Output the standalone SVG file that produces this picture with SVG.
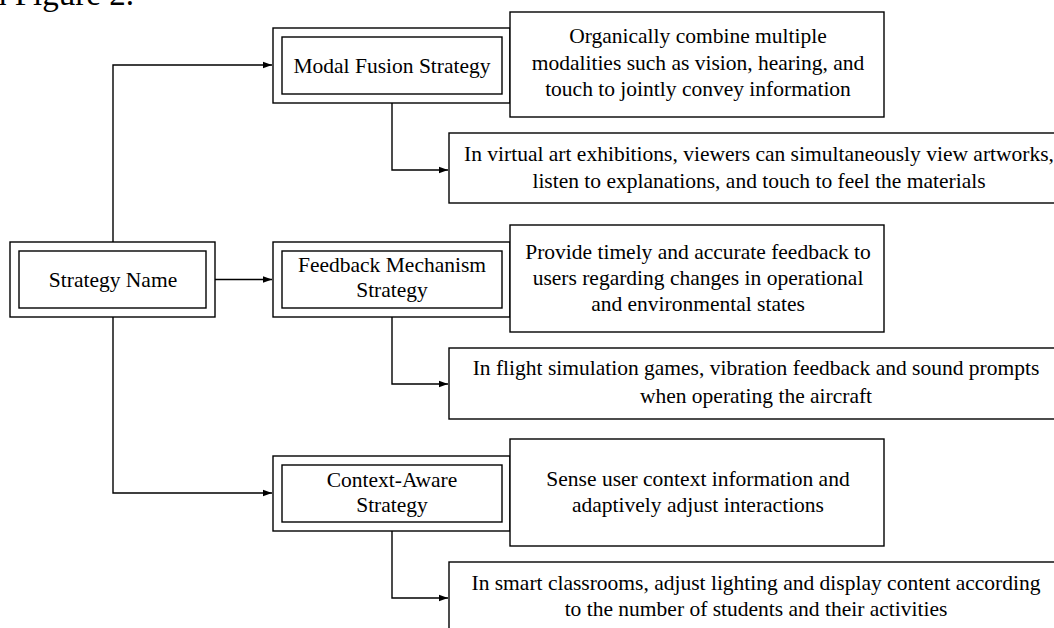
<svg xmlns="http://www.w3.org/2000/svg" width="1054" height="628" viewBox="0 0 1054 628">
<defs>
<style>
.box{fill:#fff;stroke:#000;stroke-width:1.4}
.conn{fill:none;stroke:#000;stroke-width:1.4}
text{font-family:"Liberation Serif","Times New Roman",serif;font-size:21.5px;fill:#000}
.c{text-anchor:middle}
</style>
<marker id="arr" markerWidth="10" markerHeight="8" refX="9" refY="4" orient="auto" markerUnits="userSpaceOnUse">
<path d="M0,0.8 L9,4 L0,7.2 Z" fill="#000"/>
</marker>
</defs>
<rect width="1054" height="628" fill="#fff"/>
<text x="-10" y="5" style="font-size:33px">n Figure 2.</text>

<g id="connectors">
<path class="conn" d="M113,242 V65 H272" marker-end="url(#arr)"/>
<path class="conn" d="M215,279.5 H272" marker-end="url(#arr)"/>
<path class="conn" d="M113,317 V493 H272" marker-end="url(#arr)"/>
<path class="conn" d="M392,103 V170 H448" marker-end="url(#arr)"/>
<path class="conn" d="M392,317 V384 H448" marker-end="url(#arr)"/>
<path class="conn" d="M392,531 V598 H448" marker-end="url(#arr)"/>
</g>

<g id="strategy-name">
<rect class="box" x="10" y="242" width="205" height="75"/>
<rect class="box" x="19" y="251" width="187" height="57"/>
<text class="c" x="113" y="287">Strategy Name</text>
</g>

<g id="modal-fusion">
<rect class="box" x="273" y="28" width="237" height="75"/>
<rect class="box" x="282" y="37" width="220" height="57"/>
<text class="c" x="392" y="73">Modal Fusion Strategy</text>
</g>
<g id="modal-desc">
<rect class="box" x="510" y="12" width="374" height="105"/>
<text class="c" x="698" y="43">Organically combine multiple</text>
<text class="c" x="698" y="69.5">modalities such as vision, hearing, and</text>
<text class="c" x="698" y="95.5">touch to jointly convey information</text>
</g>
<g id="modal-example">
<rect class="box" x="449" y="133" width="640" height="70"/>
<text class="c" x="759" y="161">In virtual art exhibitions, viewers can simultaneously view artworks,</text>
<text class="c" x="759" y="188">listen to explanations, and touch to feel the materials</text>
</g>

<g id="feedback">
<rect class="box" x="273" y="242" width="237" height="75"/>
<rect class="box" x="282" y="251" width="220" height="57"/>
<text class="c" x="392" y="272">Feedback Mechanism</text>
<text class="c" x="392" y="297">Strategy</text>
</g>
<g id="feedback-desc">
<rect class="box" x="510" y="225" width="374" height="107"/>
<text class="c" x="698" y="259">Provide timely and accurate feedback to</text>
<text class="c" x="698" y="285">users regarding changes in operational</text>
<text class="c" x="698" y="311">and environmental states</text>
</g>
<g id="feedback-example">
<rect class="box" x="449" y="348" width="640" height="71"/>
<text class="c" x="756" y="375">In flight simulation games, vibration feedback and sound prompts</text>
<text class="c" x="756" y="403">when operating the aircraft</text>
</g>

<g id="context">
<rect class="box" x="273" y="456" width="237" height="75"/>
<rect class="box" x="282" y="465" width="220" height="57"/>
<text class="c" x="392" y="487">Context-Aware</text>
<text class="c" x="392" y="512">Strategy</text>
</g>
<g id="context-desc">
<rect class="box" x="510" y="439" width="374" height="107"/>
<text class="c" x="698" y="486">Sense user context information and</text>
<text class="c" x="698" y="512">adaptively adjust interactions</text>
</g>
<g id="context-example">
<rect class="box" x="449" y="562" width="640" height="90"/>
<text class="c" x="756" y="590">In smart classrooms, adjust lighting and display content according</text>
<text class="c" x="756" y="616">to the number of students and their activities</text>
</g>
</svg>
